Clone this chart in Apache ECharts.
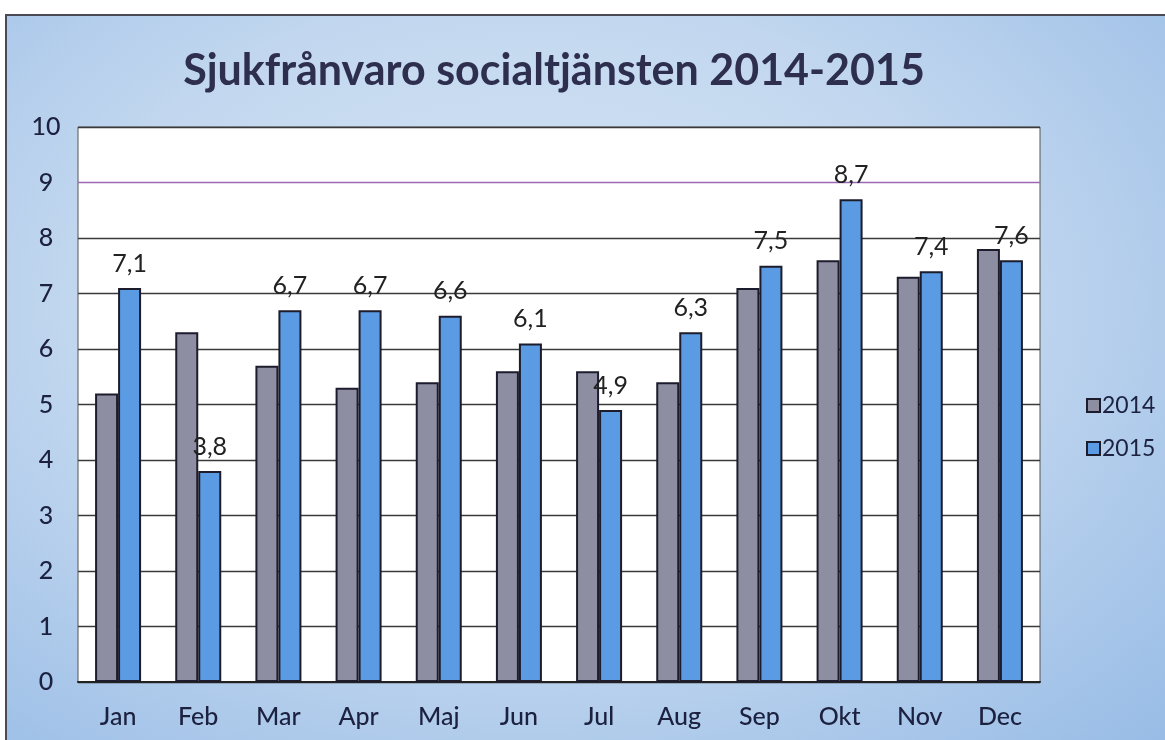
<!DOCTYPE html>
<html>
<head>
<meta charset="utf-8">
<script src="https://cdn.jsdelivr.net/npm/echarts@6/dist/echarts.min.js"></script>
<style>
  html, body { margin: 0; padding: 0; background: #ffffff; }
  #frame {
    position: absolute; left: 5px; top: 14px; width: 1160px; height: 726px;
    border-left: 2px solid #4a4a55; border-top: 2px solid #4a4a55; box-sizing: border-box;
    background: radial-gradient(ellipse at 45% 40%, #d6e5f4 0%, #c2d7ef 50%, #98bce6 100%);
  }
  #chart { position: absolute; left: 0; top: 0; width: 1165px; height: 740px; }
</style>
</head>
<body>
<div id="frame"></div>
<div id="chart"></div>
<script>
// data
const months = ['Jan', 'Feb', 'Mar', 'Apr', 'Maj', 'Jun', 'Jul', 'Aug', 'Sep', 'Okt', 'Nov', 'Dec'];
const values2014 = [5.2, 6.3, 5.7, 5.3, 5.4, 5.6, 5.6, 5.4, 7.1, 7.6, 7.3, 7.8];
const values2015 = [7.1, 3.8, 6.7, 6.7, 6.6, 6.1, 4.9, 6.3, 7.5, 8.7, 7.4, 7.6];

const chart = echarts.init(document.getElementById('chart'));

const font = 'Lato, "Open Sans", sans-serif';
const textColor = '#1c2140';

// gridline colours 0..10 (the 9 line is purple in the original)
const lineColors = ['#2a2a2a', '#3a3a3a', '#3a3a3a', '#3a3a3a', '#3a3a3a', '#3a3a3a', '#3a3a3a', '#3a3a3a', '#3a3a3a', '#9a68b4', '#3a3a3a'];

chart.setOption({
    backgroundColor: 'transparent',
    title: {
        text: 'Sjukfrånvaro socialtjänsten 2014-2015',
        left: 549, top: 45, textAlign: 'center',
        textStyle: { fontFamily: font, fontSize: 43, fontWeight: 'bold', color: '#2e2f4f' }
    },
    legend: {
        orient: 'vertical', left: 1081, top: 389, itemGap: 20,
        itemWidth: 13, itemHeight: 13, icon: 'rect',
        textStyle: { fontFamily: font, fontSize: 23, color: textColor, padding: [0, 0, 0, -3] },
        data: ['2014', '2015']
    },
    grid: {
        left: 78, right: 125, top: 127, bottom: 58,
        show: true, backgroundColor: '#ffffff', borderColor: '#555', borderWidth: 1
    },
    xAxis: {
        type: 'category', data: months,
        axisTick: { show: false },
        axisLine: { lineStyle: { color: '#222', width: 2 } },
        axisLabel: { fontFamily: font, fontSize: 25, fontWeight: 500, color: textColor, margin: 22 }
    },
    yAxis: {
        type: 'value', min: 0, max: 10, interval: 1,
        axisLine: { show: false }, axisTick: { show: false },
        axisLabel: { fontFamily: font, fontSize: 25, fontWeight: 500, color: textColor, margin: 32, align: 'center' },
        splitLine: { lineStyle: { color: lineColors, width: 1.3 } }
    },
    series: [
        {
            name: '2014', type: 'bar', data: values2014,
            barWidth: 23, barGap: '0%',
            itemStyle: { color: '#8e8ea3', borderColor: '#1c1c2c', borderWidth: 2 }
        },
        {
            name: '2015', type: 'bar', data: values2015,
            barWidth: 23,
            itemStyle: { color: '#5b9be3', borderColor: '#1c1c2c', borderWidth: 2 },
            label: {
                show: true, position: 'top', distance: 12,
                fontFamily: font, fontSize: 25, color: '#222',
                formatter: p => String(p.value).replace('.', ',')
            }
        }
    ]
});
</script>
</body>
</html>
